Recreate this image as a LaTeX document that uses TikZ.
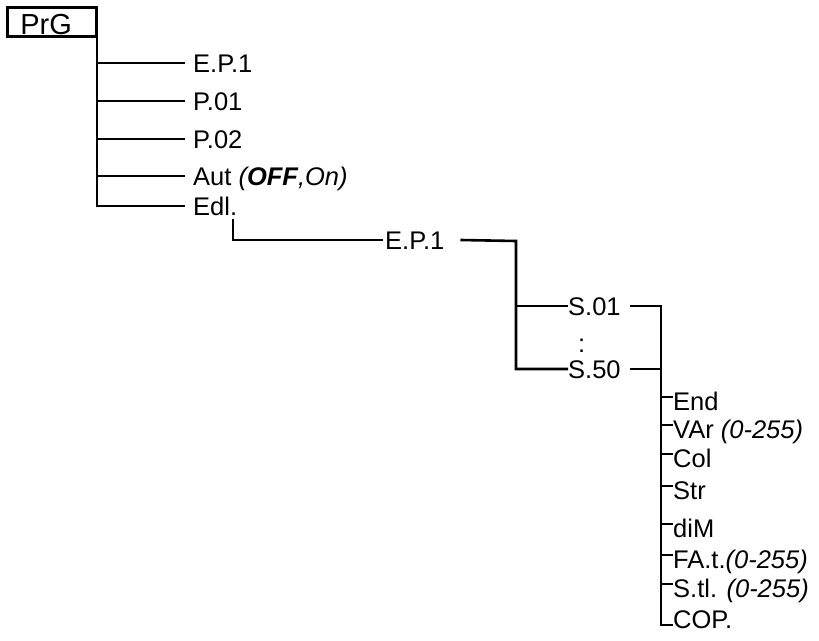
\documentclass[tikz,border=0pt]{standalone}
\usepackage{fontspec}
\setmainfont{Liberation Sans}
\begin{document}
\begin{tikzpicture}[x=1pt,y=-1pt,
  conn/.style={line width=2.6pt},
  lbl/.style={inner sep=0pt, anchor=base west, text height=18pt, text depth=0pt, font=\fontsize{25.5}{30}\selectfont},
  sub/.style={lbl, text height=26pt},
  boxnode/.style={draw, line width=2.8pt, anchor=north west, inner xsep=13pt, inner ysep=2pt,
     text width=63pt, align=left, text height=25pt, text depth=0pt, font=\fontsize{29}{32}\selectfont}]
\useasboundingbox (0,0) rectangle (819,640);
% root
\node[boxnode] (prg) at (6,6) {PrG};
% first level
\node[lbl] (a1) at (193,72) {E.P.1};
\node[lbl] (a2) at (193,110) {P.01};
\node[lbl] (a3) at (193,148) {P.02};
\node[lbl] (a4) at (193,185) {Aut \textit{(\textbf{OFF},On)}};
\node[lbl] (a5) at (193,215) {Edl.};
\coordinate (t0) at ([xshift=-1pt]prg.south east);
\draw[conn] (t0) -- (t0 |- a5.west) -- ([xshift=-8pt]a5.west);
\foreach \n in {a1,a2,a3,a4}
  \draw[conn] (t0 |- \n.west) -- ([xshift=-8pt]\n.west);
% second level
\node[lbl] (ep) at (385,249) {E.P.1};
\coordinate (edlfoot) at (233,219);
\draw[conn] (edlfoot) |- ([xshift=-2pt]ep.west);
% third level
\node[lbl] (s01) at (568,315) {S.01};
\node[lbl] (dots) at (578,352) {:};
\node[lbl] (s50) at (568,378) {S.50};
\coordinate (j2) at (516,241);
\draw[conn] ([xshift=16pt]ep.east) -- (j2) |- (s50.west);
\draw[conn] (j2 |- s01.west) -- (s01.west);
% fourth level
\node[sub] (n1) at (673,410) {End};
\node[sub] (n2) at (673,438) {VAr \textit{(0-255)}};
\node[sub] (n3) at (673,467) {Col};
\node[sub] (n4) at (673,499) {Str};
\node[sub] (n5) at (673,537) {diM};
\node[sub] (n6) at (673,568) {FA.t.\textit{(0-255)}};
\node[sub] (n7) at (673,597) {S.tl. \textit{(0-255)}};
\node[sub] (n8) at (673,628) {COP.};
\coordinate (j3) at (661,306);
\coordinate (j4) at (661,625);
\draw[conn] ([xshift=9pt]s01.east) -- (j3) -- (j4) -- (j4 -| n8.west);
\draw[conn] ([xshift=9pt]s50.east) -- (j3 |- s50.east);
\foreach \n in {n1,n2,n3,n4,n5,n6,n7}
  \draw[conn] (j3 |- \n.west) -- (\n.west);
\end{tikzpicture}
\end{document}
